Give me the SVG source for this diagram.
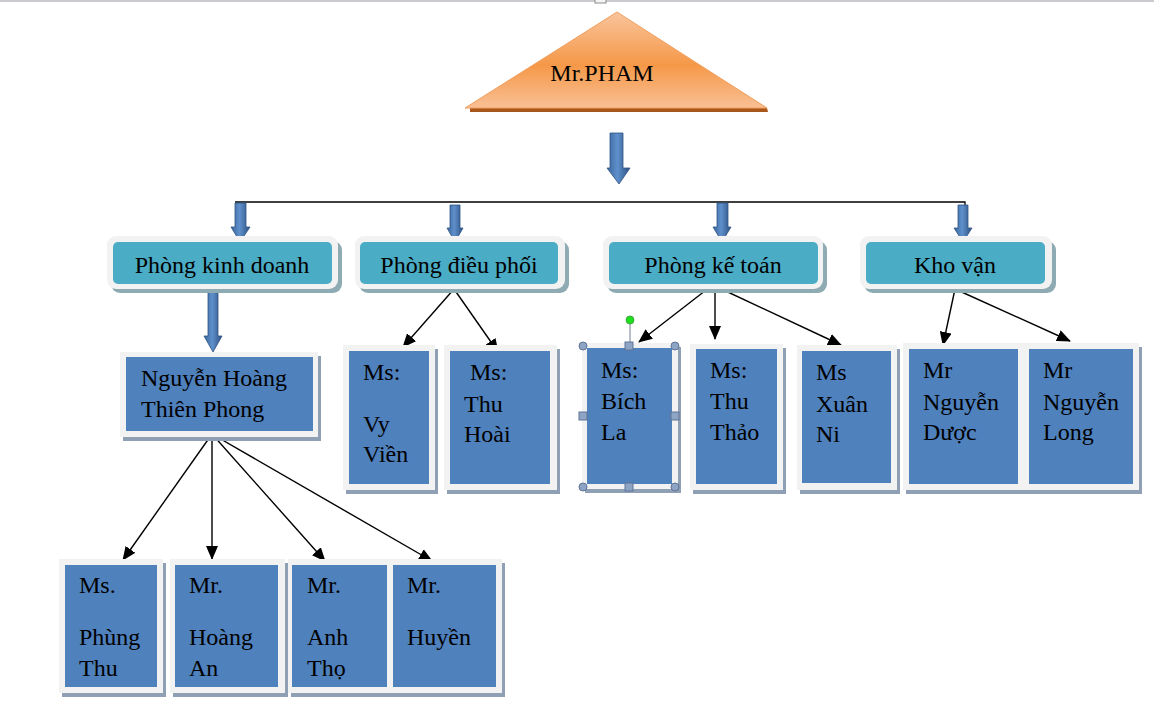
<svg xmlns="http://www.w3.org/2000/svg" width="1154" height="709" viewBox="0 0 1154 709">
<style>
text{font-family:"Liberation Serif","Times New Roman",serif;font-size:24px;fill:#000}
.dt{text-anchor:middle}
.frame{fill:#f2f2f2}
.blue{fill:#4f81bd}
.sh{fill:#8f9fb4}
.dsh{fill:#8eaab2}
.teal{fill:#4bacc6}
.con{stroke:#000;stroke-width:1.4;fill:none;marker-end:url(#ah)}
.barrow{fill:url(#bg);stroke:#2e5384;stroke-width:0.8}
.hdl{fill:#8ea4c4;stroke:#5f7497;stroke-width:1}
</style>
<defs>
<linearGradient id="tri" x1="0" y1="0" x2="0" y2="1">
<stop offset="0" stop-color="#f9c49c"/>
<stop offset="0.55" stop-color="#f59848"/>
<stop offset="1" stop-color="#f9c094"/>
</linearGradient>
<linearGradient id="bg" x1="0" y1="0" x2="1" y2="0">
<stop offset="0" stop-color="#3a659a"/>
<stop offset="0.45" stop-color="#5f90cc"/>
<stop offset="1" stop-color="#2c5080"/>
</linearGradient>
<marker id="ah" markerUnits="userSpaceOnUse" markerWidth="14" markerHeight="12" refX="13" refY="6" orient="auto">
<path d="M0,0 L14,6 L0,12 z" fill="#000"/>
</marker>
</defs>
<rect x="0" y="0" width="1154" height="2" fill="#c9cbcf"/>
<rect x="595" y="-3" width="11" height="6" fill="#f4f4f4" stroke="#8a8a8a" stroke-width="1"/>

<g id="mr-pham">
<polygon points="470,108 767,108 768,112 470,112" fill="#a9561a"/>
<polygon points="617,12 767,108 465,108" fill="url(#tri)" stroke="#f0a060" stroke-width="1"/>
<text x="602" y="81" class="dt">Mr.PHAM</text>
</g>

<g id="connectors">
<path class="barrow" d="M610,133 H623 V168 H630 L619,184 L607,168 H610 Z"/>
<path d="M235,202 H965 V206" stroke="#000" stroke-width="1.3" fill="none"/>
<path class="barrow" d="M235,203 H246 V227 H250 L240,242 L231,227 H235 Z"/>
<path class="barrow" d="M450,205 H460 V228 H463 L455,242 L447,228 H450 Z"/>
<path class="barrow" d="M717,203 H728 V227 H731 L722,242 L713,227 H717 Z"/>
<path class="barrow" d="M958,205 H968 V228 H972 L963,242 L954,228 H958 Z"/>
<path class="barrow" d="M208,289 H218 V336 H222 L213,352 L204,336 H208 Z"/>
<line class="con" x1="212" y1="434" x2="123" y2="560"/>
<line class="con" x1="212" y1="434" x2="212" y2="559"/>
<line class="con" x1="212" y1="434" x2="325" y2="561"/>
<line class="con" x1="212" y1="434" x2="432" y2="561"/>
<line class="con" x1="454" y1="289" x2="403" y2="347"/>
<line class="con" x1="454" y1="289" x2="498" y2="352"/>
<line class="con" x1="710" y1="287" x2="639" y2="342"/>
<line class="con" x1="715" y1="286" x2="715" y2="339"/>
<line class="con" x1="715" y1="286" x2="841" y2="345"/>
<line class="con" x1="955" y1="289" x2="943" y2="345"/>
<line class="con" x1="955" y1="289" x2="1070" y2="341"/>
</g>

<g id="phong-kinh-doanh">
<rect class="dsh" x="111" y="241" width="231" height="52" rx="9"/>
<rect class="frame" x="107" y="236" width="231" height="53" rx="9"/>
<rect class="teal" x="113" y="242" width="219" height="42" rx="5"/>
<text x="222" y="273" class="dt">Phòng kinh doanh</text>
</g>
<g id="phong-dieu-phoi">
<rect class="dsh" x="359" y="241" width="210" height="52" rx="9"/>
<rect class="frame" x="355" y="236" width="210" height="53" rx="9"/>
<rect class="teal" x="360" y="242" width="198" height="42" rx="5"/>
<text x="459" y="273" class="dt">Phòng điều phối</text>
</g>
<g id="phong-ke-toan">
<rect class="dsh" x="607" y="241" width="220" height="52" rx="9"/>
<rect class="frame" x="603" y="236" width="220" height="53" rx="9"/>
<rect class="teal" x="609" y="242" width="209" height="42" rx="5"/>
<text x="713" y="273" class="dt">Phòng kế toán</text>
</g>
<g id="kho-van">
<rect class="dsh" x="864" y="241" width="192" height="52" rx="9"/>
<rect class="frame" x="860" y="236" width="192" height="53" rx="9"/>
<rect class="teal" x="866" y="242" width="179" height="42" rx="5"/>
<text x="955" y="273" class="dt">Kho vận</text>
</g>

<g id="nguyen-hoang-thien-phong">
<rect class="sh" x="123" y="356" width="198" height="85"/>
<rect class="frame" x="120" y="352" width="198" height="85"/>
<rect class="blue" x="126" y="357" width="187" height="74"/>
<text x="141" y="386">Nguyễn Hoàng</text>
<text x="141" y="417">Thiên Phong</text>
</g>

<g id="ms-vy-vien">
<rect class="sh" x="346" y="349" width="92" height="145"/>
<rect class="frame" x="343" y="345" width="92" height="145"/>
<rect class="blue" x="349" y="351" width="80" height="133"/>
<text x="363" y="380">Ms:</text>
<text x="363" y="432">Vy</text>
<text x="363" y="462">Viền</text>
</g>
<g id="ms-thu-hoai">
<rect class="sh" x="447" y="349" width="113" height="145"/>
<rect class="frame" x="444" y="345" width="113" height="145"/>
<rect class="blue" x="450" y="351" width="100" height="133"/>
<text x="470" y="380">Ms:</text>
<text x="464" y="412">Thu</text>
<text x="464" y="442">Hoài</text>
</g>
<g id="ms-bich-la">
<rect class="sh" x="585" y="347" width="96" height="146"/>
<rect class="frame" x="582" y="343" width="96" height="146"/>
<rect class="blue" x="587" y="348" width="85" height="136"/>
<text x="601" y="378">Ms:</text>
<text x="601" y="409">Bích</text>
<text x="601" y="440">La</text>
<line x1="630" y1="324" x2="630" y2="343" stroke="#6f7f99" stroke-width="1"/>
<circle cx="630" cy="320" r="4" fill="#1ee01e" stroke="#3a9a3a" stroke-width="0.8"/>
<circle class="hdl" cx="583" cy="346" r="4"/>
<circle class="hdl" cx="675" cy="346" r="4"/>
<circle class="hdl" cx="583" cy="487" r="4"/>
<circle class="hdl" cx="675" cy="487" r="4"/>
<rect class="hdl" x="625" y="342" width="8" height="8"/>
<rect class="hdl" x="625" y="483" width="8" height="8"/>
<rect class="hdl" x="579" y="412" width="8" height="8"/>
<rect class="hdl" x="671" y="412" width="8" height="8"/>
</g>
<g id="ms-thu-thao">
<rect class="sh" x="693" y="348" width="93" height="146"/>
<rect class="frame" x="690" y="344" width="93" height="146"/>
<rect class="blue" x="696" y="349" width="81" height="135"/>
<text x="710" y="378">Ms:</text>
<text x="710" y="409">Thu</text>
<text x="710" y="440">Thảo</text>
</g>
<g id="ms-xuan-ni">
<rect class="sh" x="800" y="349" width="100" height="145"/>
<rect class="frame" x="797" y="345" width="100" height="145"/>
<rect class="blue" x="802" y="351" width="89" height="132"/>
<text x="816" y="380">Ms</text>
<text x="816" y="412">Xuân</text>
<text x="816" y="442">Ni</text>
</g>
<g id="mr-nguyen-duoc">
<rect class="sh" x="906" y="347" width="236" height="147"/>
<rect class="frame" x="903" y="343" width="236" height="147"/>
<rect class="blue" x="909" y="349" width="109" height="135"/>
<text x="923" y="378">Mr</text>
<text x="923" y="410">Nguyễn</text>
<text x="923" y="440">Dược</text>
</g>
<g id="mr-nguyen-long">
<rect class="blue" x="1029" y="349" width="104" height="135"/>
<text x="1043" y="378">Mr</text>
<text x="1043" y="410">Nguyễn</text>
<text x="1043" y="440">Long</text>
</g>

<g id="ms-phung-thu">
<rect class="sh" x="62" y="563" width="104" height="134"/>
<rect class="frame" x="59" y="559" width="104" height="134"/>
<rect class="blue" x="65" y="565" width="92" height="122"/>
<text x="79" y="593">Ms.</text>
<text x="79" y="645">Phùng</text>
<text x="79" y="676">Thu</text>
</g>
<g id="mr-hoang-an">
<rect class="sh" x="173" y="563" width="115" height="134"/>
<rect class="frame" x="170" y="559" width="115" height="134"/>
<rect class="blue" x="175" y="565" width="103" height="122"/>
<text x="189" y="593">Mr.</text>
<text x="189" y="645">Hoàng</text>
<text x="189" y="676">An</text>
</g>
<g id="mr-anh-tho">
<rect class="sh" x="291" y="563" width="214" height="134"/>
<rect class="frame" x="288" y="559" width="214" height="134"/>
<rect class="blue" x="292" y="565" width="95" height="122"/>
<text x="307" y="593">Mr.</text>
<text x="307" y="645">Anh</text>
<text x="307" y="676">Thọ</text>
</g>
<g id="mr-huyen">
<rect class="blue" x="393" y="565" width="103" height="122"/>
<text x="407" y="593">Mr.</text>
<text x="407" y="645">Huyền</text>
</g>
</svg>
